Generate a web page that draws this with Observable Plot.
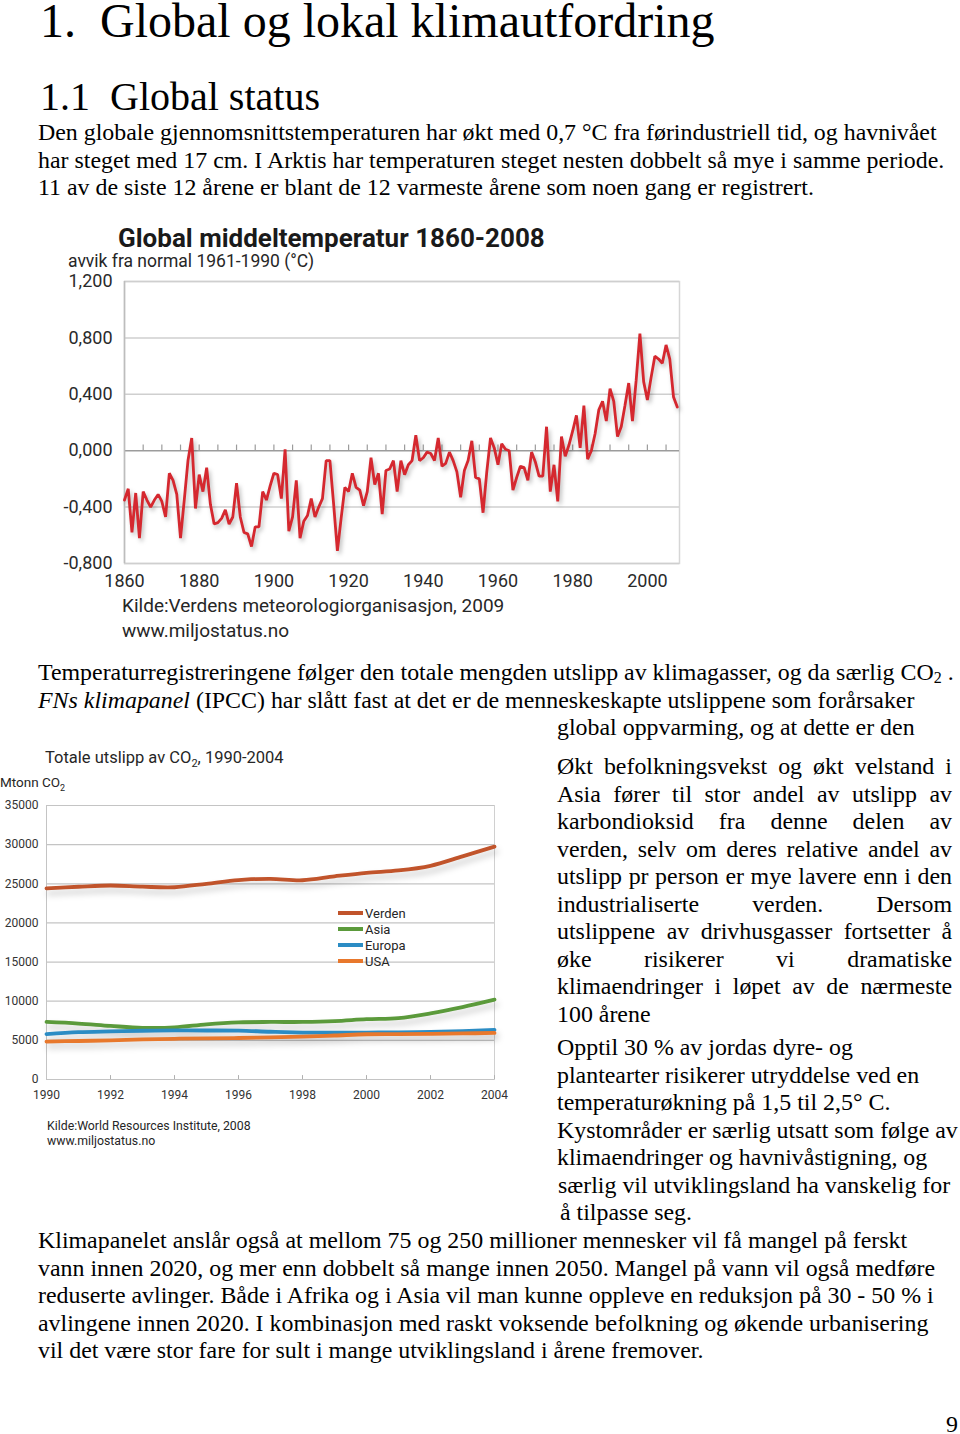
<!DOCTYPE html>
<html><head><meta charset="utf-8">
<script src="https://cdn.jsdelivr.net/npm/d3@7"></script>
<script src="https://cdn.jsdelivr.net/npm/@observablehq/plot@0.6"></script>
<style>
body{margin:0;width:960px;height:1434px;position:relative;background:#fff;font-family:"Liberation Serif","Times New Roman",serif;color:#000;overflow:hidden}
.abs{position:absolute;white-space:nowrap}
.p{font-size:23.9px;line-height:27.5px}
.j{text-align:justify;text-align-last:justify;width:395px}
.cf{font-family:Roboto,sans-serif;color:#262626;line-height:1}
.lg{display:flex;align-items:center;height:16px;font-size:13px}
.lg span.sw{display:inline-block;width:25px;height:3.5px;margin-right:2px}
</style></head><body>

<div class="abs" style="left:40px;top:-3px;font-size:48px;line-height:48px">1.&nbsp;&nbsp;Global og lokal klimautfordring</div>
<div class="abs" style="left:40px;top:77px;font-size:40px;line-height:40px">1.1&nbsp;&nbsp;Global status</div>
<div class="abs p" style="left:38px;top:119px">
<div>Den globale gjennomsnittstemperaturen har økt med 0,7 °C fra førindustriell tid, og havnivået</div>
<div>har steget med 17 cm. I Arktis har temperaturen steget nesten dobbelt så mye i samme periode.</div>
<div>11 av de siste 12 årene er blant de 12 varmeste årene som noen gang er registrert.</div>
</div>

<div id="temp" class="abs" style="left:55px;top:220px"></div>
<div class="abs cf" style="left:118px;top:225px;font-size:26px;font-weight:700;color:#1a1a1a">Global middeltemperatur 1860-2008</div>
<div class="abs cf" style="left:68px;top:253px;font-size:17.5px">avvik fra normal 1961-1990 (°C)</div>
<div class="abs cf" style="left:122px;top:596px;font-size:19px">Kilde:Verdens meteorologiorganisasjon, 2009</div>
<div class="abs cf" style="left:122px;top:621px;font-size:19px">www.miljostatus.no</div>

<div class="abs p" style="left:38px;top:659px">Temperaturregistreringene følger den totale mengden utslipp av klimagasser, og da særlig CO<span style="font-size:16px;vertical-align:-3px">2</span> .</div>
<div class="abs p" style="left:38px;top:687px"><i>FNs klimapanel</i> (IPCC) har slått fast at det er de menneskeskapte utslippene som forårsaker</div>
<div class="abs p" style="left:557px;top:714px">global oppvarming, og at dette er den</div>

<div id="co2" class="abs" style="left:0px;top:795px"></div>
<div class="abs cf" style="left:45px;top:750px;font-size:16.5px">Totale utslipp av CO<sub style="font-size:11px">2</sub>, 1990-2004</div>
<div class="abs cf" style="left:0px;top:776px;font-size:13.5px">Mtonn CO<sub style="font-size:9px">2</sub></div>
<div id="legend" class="abs cf" style="left:338px;top:905px"></div>
<div class="abs cf" style="left:47px;top:1120px;font-size:12.3px">Kilde:World Resources Institute, 2008</div>
<div class="abs cf" style="left:47px;top:1135px;font-size:12.3px">www.miljostatus.no</div>

<div class="abs p" style="left:557px;top:753px">
<div class="j">Økt befolkningsvekst og økt velstand i</div>
<div class="j">Asia fører til stor andel av utslipp av</div>
<div class="j">karbondioksid fra denne delen av</div>
<div class="j">verden, selv om deres relative andel av</div>
<div class="j">utslipp pr person er mye lavere enn i den</div>
<div class="j">industrialiserte verden. Dersom</div>
<div class="j">utslippene av drivhusgasser fortsetter å</div>
<div class="j">øke risikerer vi dramatiske</div>
<div class="j">klimaendringer i løpet av de nærmeste</div>
<div>100 årene</div>
</div>
<div class="abs p" style="left:557px;top:1034px">
<div>Opptil 30 % av jordas dyre- og</div>
<div>plantearter risikerer utryddelse ved en</div>
<div>temperaturøkning på 1,5 til 2,5° C.</div>
<div>Kystområder er særlig utsatt som følge av</div>
<div>klimaendringer og havnivåstigning, og</div>
<div style="margin-left:1px">særlig vil utviklingsland ha vanskelig for</div>
<div style="margin-left:3px">å tilpasse seg.</div>
</div>
<div class="abs p" style="left:38px;top:1227px">
<div>Klimapanelet anslår også at mellom 75 og 250 millioner mennesker vil få mangel på ferskt</div>
<div>vann innen 2020, og mer enn dobbelt så mange innen 2050. Mangel på vann vil også medføre</div>
<div>reduserte avlinger. Både i Afrika og i Asia vil man kunne oppleve en reduksjon på 30 - 50 % i</div>
<div>avlingene innen 2020. I kombinasjon med raskt voksende befolkning og økende urbanisering</div>
<div>vil det være stor fare for sult i mange utviklingsland i årene fremover.</div>
</div>
<div class="abs p" style="left:946px;top:1411px">9</div>

<script>
// ---- Global middeltemperatur 1860-2008 (avvik fra normal 1961-1990, °C)
const tempFirstYear = 1860;
const tempAnomaly = [
 -0.35,-0.27,-0.58,-0.30,-0.62,-0.29,-0.35,-0.40,-0.35,-0.31,
 -0.36,-0.47,-0.16,-0.21,-0.31,-0.62,-0.35,-0.07, 0.09,-0.41,
 -0.17,-0.29,-0.12,-0.38,-0.52,-0.51,-0.48,-0.42,-0.52,-0.47,
 -0.23,-0.47,-0.58,-0.59,-0.68,-0.54,-0.54,-0.29,-0.35,-0.25,
 -0.16,-0.17,-0.34, 0.01,-0.57,-0.47,-0.21,-0.62,-0.50,-0.46,
 -0.34,-0.47,-0.40,-0.34,-0.07,-0.07,-0.38,-0.71,-0.48,-0.26,
 -0.29,-0.16,-0.26,-0.28,-0.39,-0.29,-0.05,-0.24,-0.16,-0.45,
 -0.14,-0.13,-0.07,-0.29,-0.07,-0.17,-0.10,-0.07, 0.11,-0.07,
 -0.05,-0.01,-0.02,-0.07, 0.09,-0.11,-0.09,-0.01,-0.07,-0.15,
 -0.33,-0.14,-0.07, 0.07,-0.19,-0.20,-0.44,-0.15, 0.09, 0.02,
 -0.10, 0.05, 0.01, 0.00,-0.28,-0.19,-0.11,-0.12,-0.21,-0.01,
 -0.08,-0.18,-0.18, 0.17,-0.29,-0.10,-0.36, 0.10,-0.04, 0.04,
  0.14, 0.25, 0.02, 0.32,-0.06, 0.00, 0.12, 0.29, 0.35, 0.21,
  0.44, 0.35, 0.10, 0.17, 0.32, 0.48, 0.21, 0.50, 0.83, 0.49,
  0.36, 0.52, 0.67, 0.65, 0.62, 0.75, 0.65, 0.38, 0.31
];
const tempXTicks = [1860, 1880, 1900, 1920, 1940, 1960, 1980, 2000];
const tempYTicks = [-0.8, -0.4, 0, 0.4, 0.8, 1.2];
const tempMinorTicks = [1865,1870,1875,1880,1885,1890,1895,1900,1905,1910,1915,1920,1925,1930,1935,1940,1945,1950,1955,1960,1965,1970,1975,1980,1985,1990,1995,2000,2005];

// ---- Totale utslipp av CO2, 1990-2004 (Mtonn CO2)
const co2Years = [1990,1991,1992,1993,1994,1995,1996,1997,1998,1999,2000,2001,2002,2003,2004];
const co2Verden = [24420,24620,24780,24630,24560,25000,25480,25620,25450,25950,26400,26700,27300,28500,29750];
const co2Asia   = [7350,7150,6850,6600,6650,7050,7300,7350,7350,7450,7700,7850,8450,9250,10200];
const co2Europa = [5800,6050,6150,6230,6270,6260,6240,6100,6000,5970,5990,6030,6080,6180,6330];
const co2USA    = [4850,4920,5000,5120,5200,5250,5300,5380,5480,5620,5780,5800,5820,5880,5950];
const co2Series = ["Verden","Asia","Europa","USA"];
const co2Colors = ["#c1542b","#5b9a3b","#2b8cc4","#e8782c"];
const co2XTicks = [1990,1992,1994,1996,1998,2000,2002,2004];
const co2YTicks = [0,5000,10000,15000,20000,25000,30000,35000];

const tempData = tempAnomaly.map((v, i) => ({year: tempFirstYear + i, value: v}));
const fmtComma = d => d.toFixed(3).replace(".", ",");

const temp = Plot.plot({
  width: 650, height: 420,
  marginLeft: 69, marginRight: 26, marginTop: 61, marginBottom: 77,
  style: {fontFamily: "Roboto, sans-serif", fontSize: "18px", color: "#2a2a2a", background: "transparent", overflow: "visible"},
  x: {domain: [1860, 2008.6], label: null},
  y: {domain: [-0.8, 1.2], label: null},
  marks: [
    Plot.frame({fill: "white", stroke: "#d6d6d6", strokeWidth: 1.5}),
    Plot.ruleY(tempYTicks.filter(d => d !== 0), {stroke: "#cfcfcf", strokeWidth: 1.5}),
    Plot.ruleY([0], {stroke: "#9c9c9c", strokeWidth: 1.5}),
    Plot.ruleX(tempMinorTicks, {y1: 0, y2: 0.04, stroke: "#9c9c9c", strokeWidth: 1.2}),
    Plot.ruleX([1860], {stroke: "#bdbdbd", strokeWidth: 1.5}),
    Plot.lineY(tempData, {x: "year", y: "value", stroke: "#d5282f", strokeWidth: 2.8, strokeLinejoin: "miter"}),
    Plot.axisX(tempXTicks, {tickSize: 0, tickPadding: 11, tickFormat: d => String(d)}),
    Plot.axisY(tempYTicks, {tickSize: 0, tickPadding: 12, tickFormat: fmtComma})
  ]
});
document.getElementById("temp").append(temp);
d3.select(temp).select("g[aria-label=frame]").style("filter", "drop-shadow(5px 6px 5px rgba(0,0,0,0.35))");
d3.select(temp).select("g[aria-label=line]").style("filter", "drop-shadow(2px 3px 2px rgba(0,0,0,0.25))");

const co2Data = [];
const co2Values = [co2Verden, co2Asia, co2Europa, co2USA];
co2Series.forEach((s, k) => co2Years.forEach((y, i) => co2Data.push({series: s, year: y, value: co2Values[k][i]})));

const co2 = Plot.plot({
  width: 510, height: 320,
  marginLeft: 46, marginRight: 16, marginTop: 10, marginBottom: 36,
  style: {fontFamily: "Roboto, sans-serif", fontSize: "12px", color: "#333", background: "transparent", overflow: "visible"},
  x: {domain: [1990, 2004], label: null},
  y: {domain: [0, 35000], label: null},
  color: {domain: co2Series, range: co2Colors},
  marks: [
    Plot.frame({fill: "white", stroke: "#d0d0d0"}),
    Plot.ruleY(co2YTicks, {stroke: "#c4c4c4", strokeWidth: 1.2}),
    Plot.ruleX(co2XTicks, {y1: 0, y2: 500, stroke: "#b0b0b0"}),
    Plot.ruleX([1990], {stroke: "#c4c4c4"}),
    Plot.lineY(co2Data, {x: "year", y: "value", z: "series", stroke: "series", strokeWidth: 3.8, curve: "catmull-rom"}),
    Plot.axisX(co2XTicks, {tickSize: 0, tickPadding: 11, tickFormat: d => String(d)}),
    Plot.axisY(co2YTicks, {tickSize: 0, tickPadding: 8, tickFormat: d => String(d)})
  ]
});
document.getElementById("co2").append(co2);
d3.select(co2).select("g[aria-label=frame]").style("filter", "drop-shadow(5px 6px 5px rgba(0,0,0,0.3))");
d3.select(co2).select("g[aria-label=line]").style("filter", "drop-shadow(2px 5px 3px rgba(0,0,0,0.2))");

const lg = d3.select("#legend");
co2Series.forEach((s, k) => {
  const row = lg.append("div").attr("class", "lg");
  row.append("span").attr("class", "sw").style("background", co2Colors[k]);
  row.append("span").text(s);
});
</script>
</body></html>
